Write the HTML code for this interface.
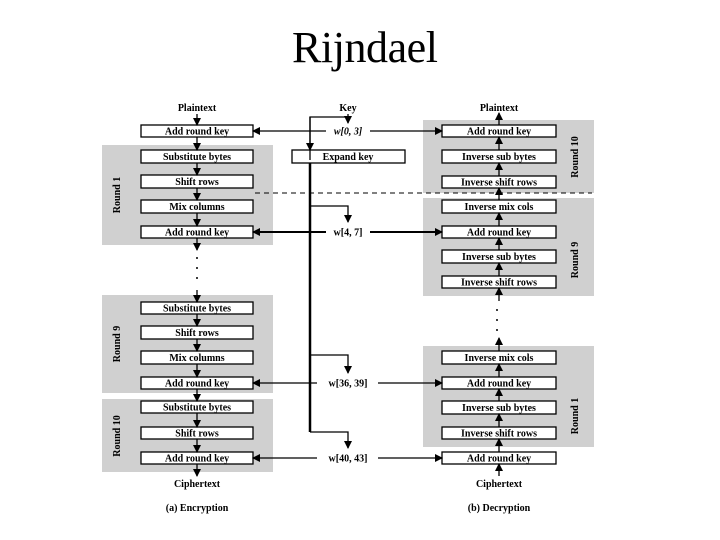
<!DOCTYPE html>
<html><head><style>html,body{margin:0;padding:0;background:#fff;}svg{display:block}</style></head>
<body>
<svg width="720" height="540" viewBox="0 0 720 540" xmlns="http://www.w3.org/2000/svg">
<defs>
<marker id="a" markerWidth="8" markerHeight="8" refX="7" refY="4" orient="auto" markerUnits="userSpaceOnUse"><path d="M0,0 L8,4 L0,8 z" fill="#000"/></marker>
</defs>
<text x="365" y="62" font-family="Liberation Serif, serif" font-size="44" text-anchor="middle" textLength="146">Rijndael</text>
<g fill="#d0d0d0">
<rect x="102" y="145" width="171" height="100"/>
<rect x="102" y="295" width="171" height="98"/>
<rect x="102" y="399" width="171" height="73"/>
<rect x="423" y="120" width="171" height="73"/>
<rect x="423" y="198" width="171" height="98"/>
<rect x="423" y="346" width="171" height="101"/>
</g>
<line x1="255" y1="193" x2="592" y2="193" stroke="#000" stroke-width="1" stroke-dasharray="5,4"/>
<g font-family="Liberation Serif, serif" font-weight="bold" font-size="10" text-anchor="middle">
<g fill="#fff" stroke="#000" stroke-width="1.3">
<rect x="141" y="125" width="112" height="12"/>
<rect x="141" y="150" width="112" height="13"/>
<rect x="141" y="175" width="112" height="13"/>
<rect x="141" y="200" width="112" height="13"/>
<rect x="141" y="226" width="112" height="12"/>
<rect x="141" y="302" width="112" height="12"/>
<rect x="141" y="326" width="112" height="13"/>
<rect x="141" y="351" width="112" height="13"/>
<rect x="141" y="377" width="112" height="12"/>
<rect x="141" y="401" width="112" height="12"/>
<rect x="141" y="427" width="112" height="12"/>
<rect x="141" y="452" width="112" height="12"/>
<rect x="292" y="150" width="113" height="13"/>
<rect x="442" y="125" width="114" height="12"/>
<rect x="442" y="150" width="114" height="13"/>
<rect x="442" y="176" width="114" height="12"/>
<rect x="442" y="200" width="114" height="13"/>
<rect x="442" y="226" width="114" height="12"/>
<rect x="442" y="250" width="114" height="13"/>
<rect x="442" y="276" width="114" height="12"/>
<rect x="442" y="351" width="114" height="13"/>
<rect x="442" y="377" width="114" height="12"/>
<rect x="442" y="401" width="114" height="13"/>
<rect x="442" y="427" width="114" height="12"/>
<rect x="442" y="452" width="114" height="12"/>
</g>
<text x="197" y="134.5">Add round key</text>
<text x="197" y="160">Substitute bytes</text>
<text x="197" y="185">Shift rows</text>
<text x="197" y="210">Mix columns</text>
<text x="197" y="235.5">Add round key</text>
<text x="197" y="311.5">Substitute bytes</text>
<text x="197" y="336">Shift rows</text>
<text x="197" y="361">Mix columns</text>
<text x="197" y="386.5">Add round key</text>
<text x="197" y="410.5">Substitute bytes</text>
<text x="197" y="436.5">Shift rows</text>
<text x="197" y="461.5">Add round key</text>
<text x="348" y="160">Expand key</text>
<text x="499" y="134.5">Add round key</text>
<text x="499" y="160">Inverse sub bytes</text>
<text x="499" y="185.5">Inverse shift rows</text>
<text x="499" y="210">Inverse mix cols</text>
<text x="499" y="235.5">Add round key</text>
<text x="499" y="260">Inverse sub bytes</text>
<text x="499" y="285.5">Inverse shift rows</text>
<text x="499" y="361">Inverse mix cols</text>
<text x="499" y="386.5">Add round key</text>
<text x="499" y="411">Inverse sub bytes</text>
<text x="499" y="436.5">Inverse shift rows</text>
<text x="499" y="461.5">Add round key</text>
<text x="197" y="111">Plaintext</text>
<text x="348" y="111">Key</text>
<text x="499" y="111">Plaintext</text>
<text x="197" y="487">Ciphertext</text>
<text x="499" y="487">Ciphertext</text>
<text x="197" y="511">(a) Encryption</text>
<text x="499" y="511">(b) Decryption</text>
<g font-style="italic"><text x="348" y="134.5">w[0, 3]</text></g>
<text x="348" y="235.5">w[4, 7]</text>
<text x="348" y="386.5">w[36, 39]</text>
<text x="348" y="461.5">w[40, 43]</text>
<text transform="translate(120,195) rotate(-90)">Round 1</text>
<text transform="translate(120,344) rotate(-90)">Round 9</text>
<text transform="translate(120,436) rotate(-90)">Round 10</text>
<text transform="translate(578,157) rotate(-90)">Round 10</text>
<text transform="translate(578,260) rotate(-90)">Round 9</text>
<text transform="translate(578,416) rotate(-90)">Round 1</text>
</g>
<polyline points="310,160 310,117 348,117" stroke="#000" stroke-width="1.3" fill="none"/>
<g stroke="#000" stroke-width="1.3" marker-end="url(#a)" fill="none">
<line x1="197" y1="114" x2="197" y2="125"/>
<line x1="197" y1="137" x2="197" y2="150"/>
<line x1="197" y1="163" x2="197" y2="175"/>
<line x1="197" y1="188" x2="197" y2="200"/>
<line x1="197" y1="213" x2="197" y2="226"/>
<line x1="197" y1="238" x2="197" y2="250"/>
<line x1="197" y1="290" x2="197" y2="302"/>
<line x1="197" y1="314" x2="197" y2="326"/>
<line x1="197" y1="339" x2="197" y2="351"/>
<line x1="197" y1="364" x2="197" y2="377"/>
<line x1="197" y1="389" x2="197" y2="401"/>
<line x1="197" y1="413" x2="197" y2="427"/>
<line x1="197" y1="439" x2="197" y2="452"/>
<line x1="197" y1="464" x2="197" y2="476"/>
<line x1="499" y1="125" x2="499" y2="113"/>
<line x1="499" y1="150" x2="499" y2="137"/>
<line x1="499" y1="176" x2="499" y2="163"/>
<line x1="499" y1="200" x2="499" y2="188"/>
<line x1="499" y1="226" x2="499" y2="213"/>
<line x1="499" y1="250" x2="499" y2="238"/>
<line x1="499" y1="276" x2="499" y2="263"/>
<line x1="499" y1="301" x2="499" y2="288"/>
<line x1="499" y1="351" x2="499" y2="338"/>
<line x1="499" y1="377" x2="499" y2="364"/>
<line x1="499" y1="401" x2="499" y2="389"/>
<line x1="499" y1="427" x2="499" y2="414"/>
<line x1="499" y1="452" x2="499" y2="439"/>
<line x1="499" y1="476" x2="499" y2="464"/>
<line x1="348" y1="114" x2="348" y2="123"/>
<line x1="310" y1="117" x2="310" y2="150"/>
<polyline points="310,206 348,206 348,222"/>
<polyline points="310,355 348,355 348,373"/>
<polyline points="310,432 348,432 348,448"/>
<line x1="326" y1="131" x2="253" y2="131"/>
<line x1="370" y1="131" x2="442" y2="131"/>
<line x1="326" y1="232" x2="253" y2="232" stroke-width="2"/>
<line x1="370" y1="232" x2="442" y2="232" stroke-width="2"/>
<line x1="317" y1="383" x2="253" y2="383"/>
<line x1="378" y1="383" x2="442" y2="383"/>
<line x1="317" y1="458" x2="253" y2="458"/>
<line x1="378" y1="458" x2="442" y2="458"/>
</g>
<line x1="310" y1="163" x2="310" y2="432" stroke="#000" stroke-width="2.5"/>
<g fill="#000">
<circle cx="197" cy="258" r="1"/><circle cx="197" cy="268" r="1"/><circle cx="197" cy="278" r="1"/>
<circle cx="497" cy="310" r="1"/><circle cx="497" cy="320" r="1"/><circle cx="497" cy="330" r="1"/>
</g>
</svg>
</body></html>
